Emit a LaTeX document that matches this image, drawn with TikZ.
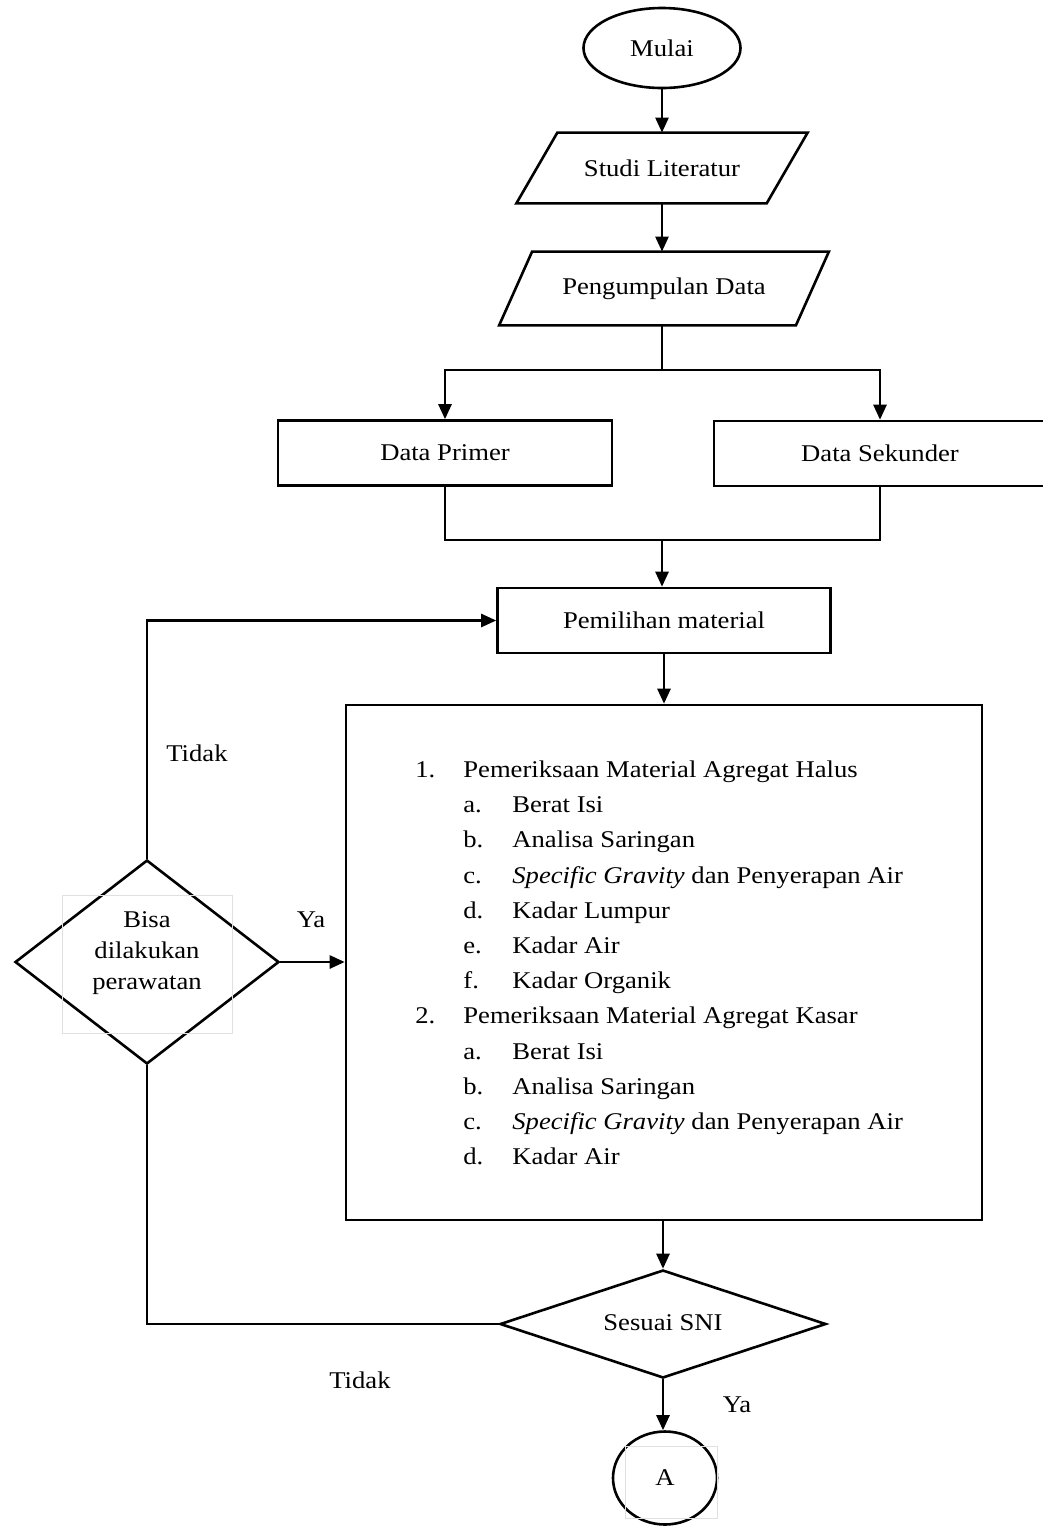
\documentclass[tikz,border=0pt]{standalone}
\usepackage{fontspec}
\setmainfont{Liberation Serif}[FakeStretch=1.11]
\usetikzlibrary{shapes.geometric,arrows.meta}
\tikzset{
  garis/.style={line width=1.3pt},
  panah/.style={garis,-{Triangle[length=7.5pt,width=6.5pt]}},
  kotak/.style={draw,garis,rectangle,inner sep=0pt},
  jajar/.style={rectangle,inner sep=0pt},
  belah/.style={draw,garis,diamond,inner sep=0pt,align=center},
  lonjong/.style={draw,garis,ellipse,inner sep=0pt},
  bayang/.style={draw=black!12,line width=0.4pt},
  teks/.style={inner sep=0pt}
}
\newcommand{\butir}[2]{& #1 & #2\\}
\newcommand{\jajargenjang}[2]{\draw[garis] ([xshift=-#2]#1.south west) -- ([xshift=#2]#1.north west) -- ([xshift=#2]#1.north east) -- ([xshift=-#2]#1.south east) -- cycle;}
\begin{document}
\begin{tikzpicture}[x=0.5pt,y=-0.5pt,font=\fontsize{12}{15.5}\selectfont]
\useasboundingbox (0,0) rectangle (1043,1527);
% alur utama
\node[lonjong,minimum width=78.5pt,minimum height=40pt] (mulai) at (662,48) {Mulai};
\node[jajar,minimum width=124.75pt,minimum height=35pt] (studi) at (662,168) {Studi Literatur};
\jajargenjang{studi}{10.25pt}
\node[jajar,minimum width=148pt,minimum height=36.5pt] (kumpul) at (664,288.5) {Pengumpulan Data};
\jajargenjang{kumpul}{8.25pt}
\node[kotak,minimum width=167pt,minimum height=32.5pt] (primer) at (445,453) {Data Primer};
\node[kotak,minimum width=166pt,minimum height=32.5pt] (sekunder) at (880,453.5) {Data Sekunder};
\node[kotak,minimum width=166.5pt,minimum height=32.5pt] (pilih) at (664,620.5) {Pemilihan material};
\node[kotak,minimum width=318pt,minimum height=257.5pt] (uji) at (664,962.5) {};
\node[teks,anchor=west] (daftar) at (415,964) {\fontsize{12}{17.6}\selectfont
  \begin{tabular}{@{}p{24pt}@{}p{24.5pt}@{}l@{}}
  1. & \multicolumn{2}{@{}l@{}}{Pemeriksaan Material Agregat Halus}\\
  \butir{a.}{Berat Isi}
  \butir{b.}{Analisa Saringan}
  \butir{c.}{\textit{Specific Gravity} dan Penyerapan Air}
  \butir{d.}{Kadar Lumpur}
  \butir{e.}{Kadar Air}
  \butir{f.}{Kadar Organik}
  2. & \multicolumn{2}{@{}l@{}}{Pemeriksaan Material Agregat Kasar}\\
  \butir{a.}{Berat Isi}
  \butir{b.}{Analisa Saringan}
  \butir{c.}{\textit{Specific Gravity} dan Penyerapan Air}
  \butir{d.}{Kadar Air}
  \end{tabular}};
\node[belah,minimum width=132pt,minimum height=102pt] (rawat) at (147,962) {};
\node[teks,align=center] (rawatteks) at (147,953) {Bisa\\dilakukan\\perawatan};
\node[belah,minimum width=163pt,minimum height=54pt] (sni) at (663,1324) {};
\node[teks] (sniteks) at (663,1323) {Sesuai SNI};
\node[lonjong,minimum width=52pt,minimum height=46.5pt] (hasil) at (665,1478) {A};
\draw[bayang] (62,895) rectangle (232,1033);
\draw[bayang] (625,1446) rectangle (717,1518);
% penghubung
\coordinate (cabang) at (662,370);
\coordinate (gabung) at (662,540);
\draw[panah] (mulai) -- (studi);
\draw[panah] (studi) -- (studi.south |- kumpul.north);
\draw[garis] (kumpul.south -| cabang) -- (cabang);
\draw[panah] (cabang) -| (primer.north);
\draw[panah] (cabang) -| (sekunder.north);
\draw[garis] (primer.south) |- (gabung) -| (sekunder.south);
\draw[panah] (gabung) -- (gabung |- pilih.north);
\draw[panah] (pilih.south) -- (pilih.south |- uji.north);
\draw[panah] (rawat.east) -- (uji.west |- rawat.east);
\draw[panah] (rawat.north) |- (pilih.west);
\draw[panah] (uji.south -| sni.north) -- (sni.north);
\draw[garis] (sni.west) -| (rawat.south);
\draw[panah] (sni.south) -- (sni.south |- hasil.north);
% label
\node[teks] (tidak1) at (197,753) {Tidak};
\node[teks] (ya1) at (311,920) {Ya};
\node[teks] (tidak2) at (360,1380) {Tidak};
\node[teks] (ya2) at (737,1405) {Ya};
\end{tikzpicture}
\end{document}
